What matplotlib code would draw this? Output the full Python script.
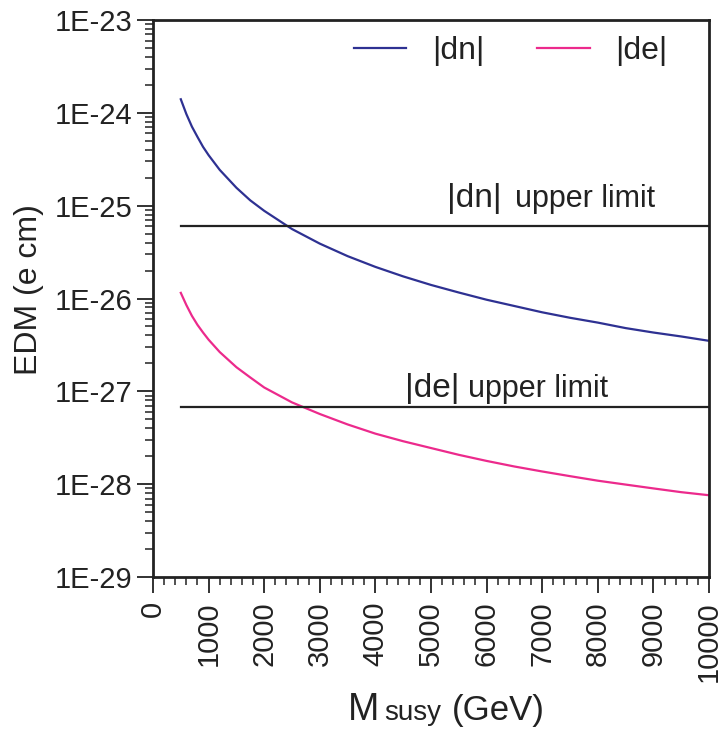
import matplotlib
matplotlib.use("Agg")
import matplotlib.pyplot as plt
from matplotlib.ticker import FixedLocator, MultipleLocator, FixedFormatter, NullFormatter
import numpy as np

plt.rcParams['font.family'] = ['Liberation Sans', 'DejaVu Sans']

# ---- data ----
msusy = [500, 600, 700, 800, 900, 1000, 1200, 1500, 1750, 2000, 2500, 3000, 3500,
         4000, 4500, 5000, 5500, 6000, 6500, 7000, 7500, 8000, 8500, 9000, 9500, 10000]
dn = [1.40e-24, 9.7e-25, 7.1e-25, 5.5e-25, 4.3e-25, 3.5e-25, 2.43e-25, 1.56e-25,
      1.14e-25, 8.8e-26, 5.6e-26, 3.9e-26, 2.86e-26, 2.19e-26, 1.73e-26, 1.40e-26,
      1.16e-26, 9.7e-27, 8.3e-27, 7.1e-27, 6.2e-27, 5.5e-27, 4.8e-27, 4.3e-27,
      3.9e-27, 3.5e-27]
de = [1.15e-26, 8.5e-27, 6.5e-27, 5.2e-27, 4.3e-27, 3.6e-27, 2.65e-27, 1.82e-27,
      1.41e-27, 1.10e-27, 7.6e-28, 5.7e-28, 4.4e-28, 3.5e-28, 2.9e-28, 2.45e-28,
      2.07e-28, 1.78e-28, 1.55e-28, 1.37e-28, 1.22e-28, 1.09e-28, 9.9e-29, 9.0e-29,
      8.2e-29, 7.6e-29]
limit_x = [500, 10000]
dn_limit = 6.0e-26
de_limit = 6.8e-28
y_ticks = [1e-29, 1e-28, 1e-27, 1e-26, 1e-25, 1e-24, 1e-23]
y_ticklabels = ['1E-29', '1E-28', '1E-27', '1E-26', '1E-25', '1E-24', '1E-23']

blue = '#2E3192'
pink = '#EC2A8C'
ink = '#222222'

fig = plt.figure(figsize=(7.28, 7.34), dpi=100)
ax = fig.add_axes([153/728, 1-577/734, (709-153)/728, (577-20)/734])

ax.plot(msusy, dn, color=blue, lw=1.6, label='|dn|')
ax.plot(msusy, de, color=pink, lw=1.6, label='|de|')
ax.plot(limit_x, [dn_limit]*2, color=ink, lw=1.6)
ax.plot(limit_x, [de_limit]*2, color=ink, lw=1.6)

ax.set_yscale('log')
ax.set_xlim(0, 10000)
ax.set_ylim(1e-29, 1e-23)

ax.xaxis.set_major_locator(MultipleLocator(1000))
ax.xaxis.set_minor_locator(MultipleLocator(200))
minor_y = [m * 10.0**e for e in range(-29, -23) for m in range(2, 10)]
ax.yaxis.set_major_locator(FixedLocator(y_ticks))
ax.yaxis.set_major_formatter(FixedFormatter(y_ticklabels))
ax.yaxis.set_minor_locator(FixedLocator(minor_y))
ax.yaxis.set_minor_formatter(NullFormatter())

for s in ax.spines.values():
    s.set_linewidth(2.0)
    s.set_color(ink)

ax.tick_params(axis='both', which='major', direction='out', length=11.5, width=1.3,
               labelsize=21, color=ink, labelcolor=ink)
ax.tick_params(axis='both', which='minor', direction='out', length=6, width=1.1, color=ink)
ax.tick_params(axis='x', which='major', pad=6)
ax.tick_params(axis='y', which='major', pad=3)
plt.setp(ax.get_xticklabels(), rotation=90)

leg = ax.legend(loc='upper right', bbox_to_anchor=(0.977, 1.022), ncol=2, frameon=False,
                fontsize=23, handlelength=1.65, handletextpad=0.8, columnspacing=1.65)
for t in leg.get_texts():
    t.set_color(ink)

# limit labels
ax.text(5290, 9.7e-26, '|dn|', fontsize=24, ha='left', va='baseline', color=ink)
ax.text(6510, 9.7e-26, 'upper limit', fontsize=22, ha='left', va='baseline', color=ink)
ax.text(4530, 8.7e-28, '|de|', fontsize=24, ha='left', va='baseline', color=ink)
ax.text(5670, 8.7e-28, 'upper limit', fontsize=22, ha='left', va='baseline', color=ink)

# axis labels
fig.text(29/728, 1-290/734, 'EDM (e cm)', rotation=90, ha='center', va='center',
         fontsize=23, color=ink)
fig.text(348/728, 1-720/734, 'M', fontsize=27, ha='left', va='baseline', color=ink)
fig.text(384/728, 1-720/734, 'susy', fontsize=20, ha='left', va='baseline', color=ink)
fig.text(452/728, 1-720/734, '(GeV)', fontsize=25, ha='left', va='baseline', color=ink)

fig.savefig('out.png', dpi=100)
